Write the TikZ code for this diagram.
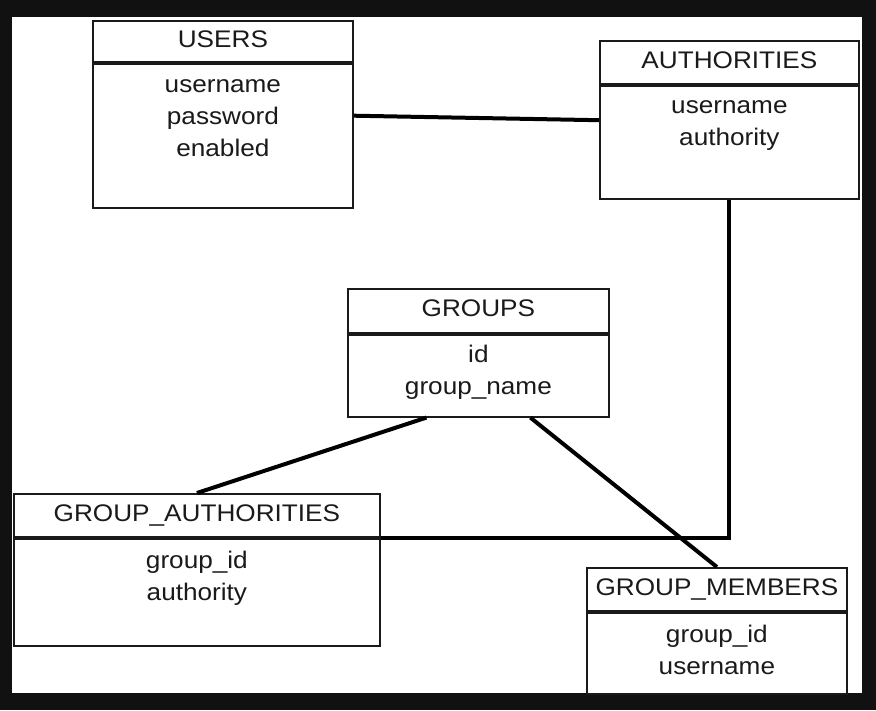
\documentclass[tikz,border=0pt]{standalone}
\usepackage{fontspec}
\setmainfont{Liberation Sans}[FakeStretch=1.09]
\usepackage{tikz}
\usetikzlibrary{positioning}
\definecolor{frame}{HTML}{111111}
\definecolor{ink}{HTML}{1A1A1A}

\begin{document}
\begin{tikzpicture}[x=1pt, y=-1pt]
        \tikzset{head/.style={draw=ink, line width=1.8pt, anchor=north west, inner sep=0pt,
                text height=17pt, text depth=5pt, font=\fontsize{24}{32}\selectfont, text=ink},
            body/.style={draw=ink, line width=1.8pt, anchor=north, inner sep=0pt},
            fields/.style={align=center, inner sep=0pt,
                font=\fontsize{24}{32}\selectfont, text=ink},
            link/.style={line width=4pt, black}}
        \fill[frame] (0,0) rectangle (876,710);
        \fill[white] (12,17) rectangle (862,693);
        % tables
        \node[head, minimum width=260pt, minimum height=41pt] (users-h) at (92,20) {USERS};
        \node[body, minimum width=260pt, minimum height=144pt, below=0pt of users-h] (users-b) {};
        \node[fields, below=94pt of users-h.south, anchor=base] (users-f) {username\\password\\enabled};
        \node[head, minimum width=259pt, minimum height=43pt] (auth-h) at (599,40) {AUTHORITIES};
        \node[body, minimum width=259pt, minimum height=113pt, below=0pt of auth-h] (auth-b) {};
        \node[fields, below=61pt of auth-h.south, anchor=base] (auth-f) {username\\authority};
        \node[head, minimum width=261pt, minimum height=44pt] (groups-h) at (347,288) {GROUPS};
        \node[body, minimum width=261pt, minimum height=82pt, below=0pt of groups-h] (groups-b) {};
        \node[fields, below=61pt of groups-h.south, anchor=base] (groups-f) {id\\group\_name};
        \node[head, minimum width=366pt, minimum height=43pt] (ga-h) at (13,493) {GROUP\_AUTHORITIES};
        \node[body, minimum width=366pt, minimum height=107pt, below=0pt of ga-h] (ga-b) {};
        \node[fields, below=63pt of ga-h.south, anchor=base] (ga-f) {group\_id\\authority};
        \node[head, minimum width=260pt, minimum height=43pt] (gm-h) at (586,567) {GROUP\_MEMBERS};
        \node[body, minimum width=260pt, minimum height=81pt, below=0pt of gm-h] (gm-b) {};
        \node[fields, below=63pt of gm-h.south, anchor=base] (gm-f) {group\_id\\username};
        % links
        \draw[link] ([yshift=20pt]users-b.east) -- ([yshift=22pt]auth-b.west);
        \draw[link] (auth-b.south) |- (ga-b.north east);
        \draw[link] ([xshift=-52pt]groups-b.south) -- (ga-h.north);
        \draw[link] ([xshift=52pt]groups-b.south) -- (gm-h.north);
    \end{tikzpicture}
\end{document}
